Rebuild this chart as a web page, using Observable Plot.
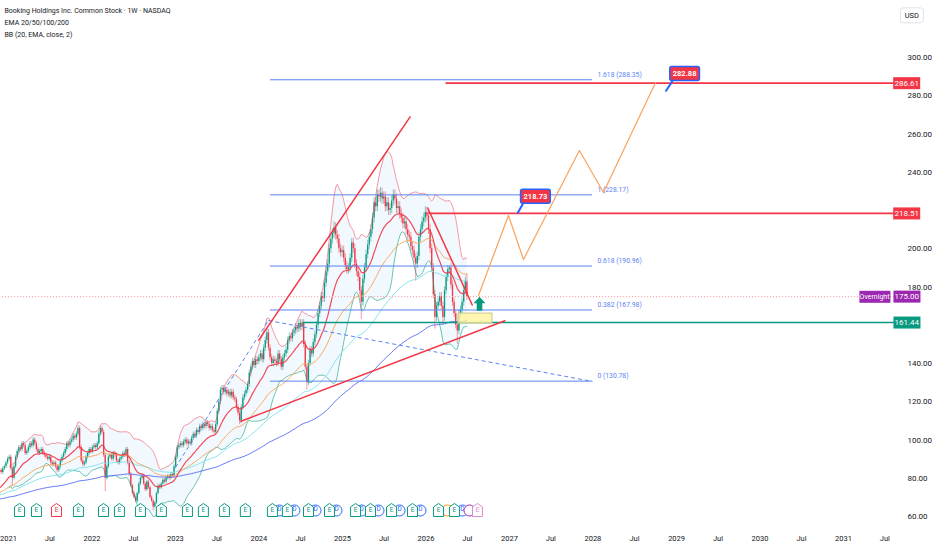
<!DOCTYPE html>
<html><head><meta charset="utf-8">
<script src="https://cdn.jsdelivr.net/npm/d3@7"></script>
<script src="https://cdn.jsdelivr.net/npm/@observablehq/plot@0.6"></script>
<style>
body{margin:0;background:#fff;overflow:hidden;}
svg{display:block;}
</style>
</head><body><div id="chart"></div>
<script>
// ---------- DATA ----------
const legendLines = ["Booking Holdings Inc. Common Stock · 1W · NASDAQ", "EMA 20/50/100/200", "BB (20, EMA, close, 2)"];
const firstWeek = [2020, 10, 23]; // first weekly candle (UTC y, m, d)
const firstOpen = 83;
const closes = [
 84,83,85,86,88,90,91,85,80,86,
 91,94,96,95,98,97,93,94,96,98,
 97,100,98,95,93,94,95,93,92,91,
 90,91,88,87,88,86,84,86,89,91,
 93,95,98,97,99,100,102,101,103,106,
 96,89,87,88,91,93,95,94,96,97,
 96,98,103,106,104,92,80,86,91,92,
 90,93,92,89,88,90,91,93,92,95,
 88,82,76,72,70,68,72,77,80,81,
 77,74,78,75,70,68,65,67,72,76,
 75,77,79,78,80,81,80,82,81,86,
 91,96,97,98,97,99,100,98,99,98,
 101,103,102,105,104,107,106,108,107,109,
 108,106,107,105,104,108,115,120,126,127,
 125,126,124,125,123,125,122,121,117,114,
 110,117,122,124,126,129,135,138,141,139,
 142,141,143,145,142,148,152,156,148,143,
 140,142,141,140,145,142,138,143,145,147,
 152,154,153,156,157,159,158,161,159,161,
 150,138,130,140,147,145,151,155,160,166,
 170,175,174,182,188,192,200,205,208,211,
 207,205,200,198,199,195,191,189,190,195,
 203,200,192,188,185,178,172,184,190,197,
 202,206,210,216,224,222,228,227,229,226,
 227,222,224,220,221,225,228,226,221,222,
 218,216,213,214,210,207,206,201,199,195,
 192,196,206,210,214,216,219,217,210,200,
 190,176,164,170,172,175,170,164,178,185,
 189,190,181,172,166,160,157,166,168,172,
 178,183,175
];
// notable wick extremes (week index)
const wickExtremes = [
 {i:8, low:76},{i:66, low:73},{i:96, low:63},{i:150, low:108},{i:167, high:158},
 {i:192, low:126},{i:209, high:214},{i:226, low:163},{i:238, high:232},{i:260, low:183},
 {i:266, high:222},{i:272, low:158},{i:277, low:160},{i:281, high:191},{i:286, low:150},{i:292, high:187}
];
const wickPct = 0.012;
const emaPeriods = [20, 50, 100, 200];
const emaSeeds = [74, 72, 71, 69];
const emaColors = ["#f23645", "#f7a55c", "#7de3ee", "#5b6ff5"];

// tick labels (160, 220 and 320 sit under the price labels / USD box)
const yTicks = [60,80,100,120,140,180,200,240,260,280,300];
const xTickYears = [2021,2022,2023,2024,2025,2026,2027,2028,2029,2030,2031];

const fibStart = 2024.138, fibEnd = 2027.994;
const fibLevels = [["1.618",288.35],["1",228.17],["0.618",190.96],["0.382",167.98],["0",130.78]];

const hLines = [
 {from:2026.234, p:286.61, color:"#f23645"},
 {from:2026.030, p:218.51, color:"#f23645"},
 {from:2024.521, p:161.44, color:"#089981"}
];
const redTrend = [
 {x1:2023.994, y1:152.0, x2:2025.814, y2:269.2},
 {x1:2023.778, y1:109.7, x2:2026.952, y2:162.5},
 {x1:2026.018, y1:221.6, x2:2026.557, y2:170.3}
];
const blueDashed = [
 {x1:2023.000, y1:85.6, x2:2024.114, y2:162.5},
 {x1:2024.114, y1:162.5, x2:2027.994, y2:130.6}
];
const projYears = [2026.629, 2026.988, 2027.168, 2027.838, 2028.126, 2028.749];
const projPrices = [175.6, 217.4, 194.4, 251.4, 229.4, 286.9];
const zone = {x1:2026.389, x2:2026.796, y1:160.9, y2:166.1};
const arrowAt = {x:2026.641, p:171.2};
const callouts = [
 {text:"218.73", tipX:2027.096, tipP:218.4, cornerX:2027.175, cornerP:224.6, boxX:2027.311, boxP:227.4},
 {text:"282.88", tipX:2028.868, tipP:282.2, cornerX:2028.952, cornerP:287.8, boxX:2029.096, boxP:291.6}
];
const overnightPrice = 175.00;
const priceLabels = [
 {p:286.61, cls:"box-red"},
 {p:218.51, cls:"box-red"},
 {p:161.44, cls:"box-green"},
 {p:175.00, cls:"box-purple"}
];
const earningsYears = [2021.132,2021.335,2021.575,2021.838,2022.138,2022.329,2022.581,2022.832,2023.144,2023.335,2023.587,2023.838,2024.162,2024.341,2024.593,2024.844,2025.156,2025.335,2025.587,2025.838,2026.150,2026.341,2026.617];
const earningsColors = earningsYears.map((y,i)=> i===2 ? "#f23645" : (i===earningsYears.length-1 ? "#e08ad0" : "#089981"));
const dividendYears = [2024.246,2024.425,2024.677,2024.928,2025.228,2025.431,2025.683,2025.934,2026.437];
const otherEvents = [{y:2026.257, color:"#ff9800"},{y:2026.521, color:"#9c27b0"}];

// ---------- HELPERS ----------
function yr(f){const y=Math.floor(f);const a=Date.UTC(y,0,1),b=Date.UTC(y+1,0,1);return new Date(a+(f-y)*(b-a));}
const DAY = 864e5;
const t0 = Date.UTC(...firstWeek);
const xEnd = yr(2031.75);
const UP = "#089981", DOWN = "#f23645";

const candles = closes.map((c,i)=>{
  const o = i===0 ? firstOpen : closes[i-1];
  const ex = wickExtremes.find(w=>w.i===i) || {};
  const hi = ex.high ?? Math.max(o,c)*(1+wickPct);
  const lo = ex.low ?? Math.min(o,c)*(1-wickPct);
  return {date:new Date(t0+i*7*DAY), o, c, hi, lo, col: c>=o ? UP : DOWN};
});
function ema(n, seed){const a=2/(n+1);let e=seed;return closes.map(c=>(e=a*c+(1-a)*e));}
const emas = emaPeriods.map((n,k)=>{const v=ema(n,emaSeeds[k]);return candles.map((d,i)=>({date:d.date,v:v[i]}));});
const basis = ema(20, emaSeeds[0]);
const bb = [];
closes.forEach((c,i)=>{
  if(i<6) return;
  const w = closes.slice(Math.max(0,i-19), i+1);
  const m = d3.mean(w); const sd = Math.sqrt(d3.mean(w, v=>(v-m)**2));
  bb.push({date:candles[i].date, upper:basis[i]+2*sd, lower:basis[i]-2*sd});
});
const xTicks = [];
xTickYears.forEach(y=>{xTicks.push({date:new Date(Date.UTC(y,0,1)),label:String(y)});xTicks.push({date:new Date(Date.UTC(y,6,1)),label:"Jul"});});
const fibs = fibLevels.map(([l,p])=>({l,p,text:`${l} (${p.toFixed(2)})`}));
const proj = projYears.map((y,i)=>({date:yr(y),p:projPrices[i]}));

const houseSymbol = {draw(ctx){ctx.moveTo(0,-7);ctx.lineTo(5,-3.5);ctx.lineTo(5,6);ctx.lineTo(-5,6);ctx.lineTo(-5,-3.5);ctx.closePath();}};
const arrowSymbol = {draw(ctx){ctx.moveTo(0,-7);ctx.lineTo(6,-0.5);ctx.lineTo(2.8,-0.5);ctx.lineTo(2.8,7);ctx.lineTo(-2.8,7);ctx.lineTo(-2.8,-0.5);ctx.lineTo(-6,-0.5);ctx.closePath();}};

const FIB = "#5b83f2";
const TXT = "#131722";

const chart = Plot.plot({
  width: 932, height: 550,
  marginTop: 0, marginRight: 27, marginBottom: 22, marginLeft: 0,
  style: {fontFamily: "Roboto, 'Liberation Sans', sans-serif", fontSize: "8px", background: "#fff"},
  x: {type: "utc", domain: [yr(2021), yr(2031)], range: [8, 843], axis: null},
  y: {domain: [60, 300], range: [516, 57], axis: null},
  color: {type: "identity"},
  marks: [
    Plot.areaY(bb, {x:"date", y1:"lower", y2:"upper", fill:"#2196f3", fillOpacity:0.06}),
    Plot.ruleX(candles, {x:"date", y1:"lo", y2:"hi", stroke:"col", strokeWidth:0.6, strokeOpacity:0.85}),
    Plot.ruleX(candles, {x:"date", y1:"o", y2:"c", stroke:"col", strokeWidth:1.3}),
    Plot.line(bb, {x:"date", y:"upper", stroke:"#f23645", strokeOpacity:0.5, strokeWidth:1}),
    Plot.line(bb, {x:"date", y:"lower", stroke:"#089981", strokeOpacity:0.6, strokeWidth:1}),
    ...emas.map((e,k)=>({e,k})).reverse().map(({e,k})=>Plot.line(e, {x:"date", y:"v", stroke:emaColors[k], strokeWidth: k===0?1.2:1, strokeOpacity: k===0?0.9:0.95})),
    Plot.ruleY([overnightPrice], {x1: yr(2020.5), x2: xEnd, stroke:"#f5a3aa", strokeWidth:1.2, strokeDasharray:"1,2"}),
    Plot.ruleY(fibs, {y:"p", x1: yr(fibStart), x2: yr(fibEnd), stroke:FIB, strokeWidth:1}),
    Plot.text(fibs, {x: yr(fibEnd), y:"p", text:"text", textAnchor:"start", lineAnchor:"bottom", dx:5, dy:-3, fill:FIB, fontSize:6.8}),
    Plot.link(blueDashed, {x1:d=>yr(d.x1), y1:"y1", x2:d=>yr(d.x2), y2:"y2", stroke:FIB, strokeWidth:1, strokeDasharray:"4,3"}),
    Plot.link(hLines, {x1:d=>yr(d.from), x2: xEnd, y1:"p", y2:"p", stroke:"color", strokeWidth:1.6}),
    Plot.link(redTrend, {x1:d=>yr(d.x1), y1:"y1", x2:d=>yr(d.x2), y2:"y2", stroke:"#f23645", strokeWidth:1.5}),
    Plot.rect([zone], {x1:d=>yr(d.x1), x2:d=>yr(d.x2), y1:"y1", y2:"y2", fill:"#fff59d", fillOpacity:0.8, stroke:"#cfc58a", strokeWidth:1}),
    Plot.line(proj, {x:"date", y:"p", stroke:"#f9a25c", strokeWidth:1.2}),
    Plot.dot([arrowAt], {x:d=>yr(d.x), y:"p", symbol: arrowSymbol, fill:"#089981", stroke:"none", r:6}),
    Plot.link(callouts, {x1:d=>yr(d.tipX), y1:"tipP", x2:d=>yr(d.cornerX), y2:"cornerP", stroke:"#2962ff", strokeWidth:2}),
    Plot.text(callouts, {x:d=>yr(d.boxX), y:"boxP", text:"text", fill:"#fff", fontWeight:"bold", fontSize:7.5, className:"box-callout"}),
    Plot.dot(dividendYears, {x:d=>yr(d), frameAnchor:"bottom", dy:-18, r:5.5, stroke:"#2962ff", fill:"#fff", strokeWidth:1}),
    Plot.text(dividendYears, {x:d=>yr(d), frameAnchor:"bottom", dy:-18, text:()=>"D", fill:"#2962ff", fontSize:6.5}),
    Plot.dot(otherEvents, {x:d=>yr(d.y), frameAnchor:"bottom", dy:-18, r:5.5, stroke:d=>d.color, fill:"#fff", strokeWidth:1}),
    Plot.dot(earningsYears, {x:d=>yr(d), frameAnchor:"bottom", dy:-18, symbol: houseSymbol, r:5, stroke:(d,i)=>earningsColors[i], fill:"#fff", strokeWidth:1}),
    Plot.text(earningsYears, {x:d=>yr(d), frameAnchor:"bottom", dy:-17, text:()=>"E", fill:(d,i)=>earningsColors[i], fontSize:6.5}),
    Plot.text(yTicks, {y:d=>d, text:d=>d.toFixed(2), frameAnchor:"right", textAnchor:"start", dx:2, fill:TXT, fontSize:8}),
    Plot.text(xTicks, {x:"date", text:"label", frameAnchor:"bottom", dy:12, fill:TXT, fontSize:7.5}),
    ...priceLabels.map(l=>Plot.text([l], {y:"p", text:d=>d.p.toFixed(2), frameAnchor:"right", dx:13.5, fill:"#fff", fontSize:8, className:l.cls})),
    Plot.text([overnightPrice], {y:d=>d, text:()=>"Overnight", frameAnchor:"right", dx:-16, fill:"#fff", fontSize:7, className:"box-purple2"}),
    Plot.text(["USD"], {frameAnchor:"top-right", dx:13.5, dy:12, text:d=>d, fill:TXT, fontSize:7.5, className:"box-usd"}),
    Plot.text(legendLines, {frameAnchor:"top-left", dx:4, text:d=>d, fill:TXT, fontSize:7, className:"legend"})
  ]
});
document.getElementById("chart").appendChild(chart);

chart.querySelectorAll("g.legend text").forEach((t,i)=>{
  t.setAttribute("y", 10 + i*12);
  t.setAttribute("dy", "0.32em");
});

const NS = "http://www.w3.org/2000/svg";
function boxes(cls, fill, stroke, sw, padX, padY, rx, fixedW){
  chart.querySelectorAll(`g.${cls} text`).forEach(t=>{
    const b = t.getBBox();
    const r = document.createElementNS(NS, "rect");
    const w = fixedW || (b.width + 2*padX);
    r.setAttribute("x", b.x + b.width/2 - w/2);
    r.setAttribute("y", b.y - padY);
    r.setAttribute("width", w);
    r.setAttribute("height", b.height + 2*padY);
    r.setAttribute("fill", fill);
    if(stroke){r.setAttribute("stroke", stroke); r.setAttribute("stroke-width", sw);}
    if(rx) r.setAttribute("rx", rx);
    const tr = t.getAttribute("transform"); if(tr) r.setAttribute("transform", tr);
    t.parentNode.insertBefore(r, t);
  });
}
boxes("box-red", "#f23645", null, 0, 2, 1.5, 0, 27);
boxes("box-green", "#089981", null, 0, 2, 1.5, 0, 27);
boxes("box-purple", "#9c27b0", null, 0, 2, 1.5, 0, 27);
boxes("box-purple2", "#9c27b0", null, 0, 2, 2, 0, 31);
boxes("box-callout", "#f23645", "#2962ff", 1.5, 3, 2.5, 2, 0);
boxes("box-usd", "#fff", "#dfe2ea", 1, 3, 3, 3, 23);
</script>
</body></html>
